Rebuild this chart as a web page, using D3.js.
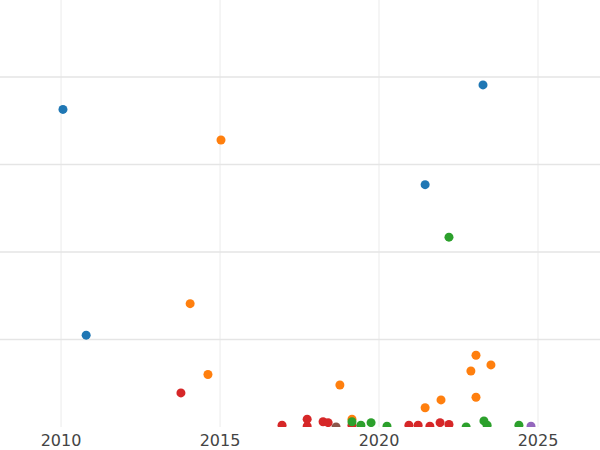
<!DOCTYPE html>
<html><head><meta charset="utf-8">
<script src="https://cdn.jsdelivr.net/npm/d3@7"></script>
<style>body{margin:0;background:#fff}</style>
</head><body><div id="chart"></div>
<script>
var seriesNames = ["blue", "orange", "red", "green", "brown", "purple"];
var seriesColors = ["#1f77b4", "#ff7f0e", "#d62728", "#2ca02c", "#8c564b", "#9467bd"];
var years = [
  [2010.06, 2023.27, 2021.45, 2010.79],
  [2015.03, 2014.06, 2014.62, 2018.77, 2023.05, 2022.89, 2023.52, 2023.05, 2021.95, 2021.45, 2019.15],
  [2013.77, 2016.95, 2017.74, 2017.74, 2018.24, 2018.40, 2019.15, 2020.94, 2021.23, 2021.60, 2021.92, 2022.20],
  [2022.20, 2019.15, 2019.43, 2019.75, 2020.25, 2022.74, 2023.30, 2023.40, 2024.40],
  [2018.65],
  [2024.78]
];
var values = [
  [3.63, 3.91, 2.77, 1.05],
  [3.28, 1.41, 0.60, 0.48, 0.82, 0.64, 0.71, 0.34, 0.31, 0.22, 0.09],
  [0.39, 0.02, 0.09, 0.01, 0.06, 0.05, 0.02, 0.02, 0.02, 0.01, 0.05, 0.03],
  [2.17, 0.06, 0.02, 0.05, 0.01, 0.00, 0.07, 0.02, 0.02],
  [0.00],
  [0.01]
];
var xTicks = [2010, 2015, 2020, 2025];
var yTicks = [1, 2, 3, 4];

var width = 600, height = 450, plotBottom = 427;
var x = d3.scaleLinear().domain([2008.08, 2026.95]).range([0, width]);
var y = d3.scaleLinear().domain([0, 4.88]).range([plotBottom, 0]);

var svg = d3.select("#chart").append("svg").attr("width", width).attr("height", height);
svg.append("clipPath").attr("id", "clip").append("rect")
  .attr("x", 0).attr("y", 0).attr("width", width).attr("height", plotBottom);

svg.append("g").selectAll("line").data(xTicks).enter().append("line")
  .attr("x1", function(d) { return x(d); }).attr("x2", function(d) { return x(d); })
  .attr("y1", 0).attr("y2", plotBottom)
  .attr("stroke", "#ebebeb").attr("stroke-width", 1);
svg.append("g").selectAll("line").data(yTicks).enter().append("line")
  .attr("x1", 0).attr("x2", width)
  .attr("y1", function(d) { return y(d); }).attr("y2", function(d) { return y(d); })
  .attr("stroke", "#e5e5e5").attr("stroke-width", 1.5);

var pts = svg.append("g").attr("clip-path", "url(#clip)");
seriesNames.forEach(function(name, i) {
  var data = years[i].map(function(yr, j) { return { x: yr, y: values[i][j] }; });
  pts.selectAll(".p" + i).data(data).enter().append("circle")
    .attr("cx", function(d) { return x(d.x); })
    .attr("cy", function(d) { return y(d.y); })
    .attr("r", 4.5)
    .attr("fill", seriesColors[i]);
});

svg.append("g").selectAll("text").data(xTicks).enter().append("text")
  .attr("x", function(d) { return x(d); }).attr("y", 446)
  .attr("text-anchor", "middle")
  .attr("font-family", "DejaVu Sans, sans-serif").attr("font-size", 16)
  .attr("fill", "#444")
  .text(function(d) { return d; });
</script></body></html>
